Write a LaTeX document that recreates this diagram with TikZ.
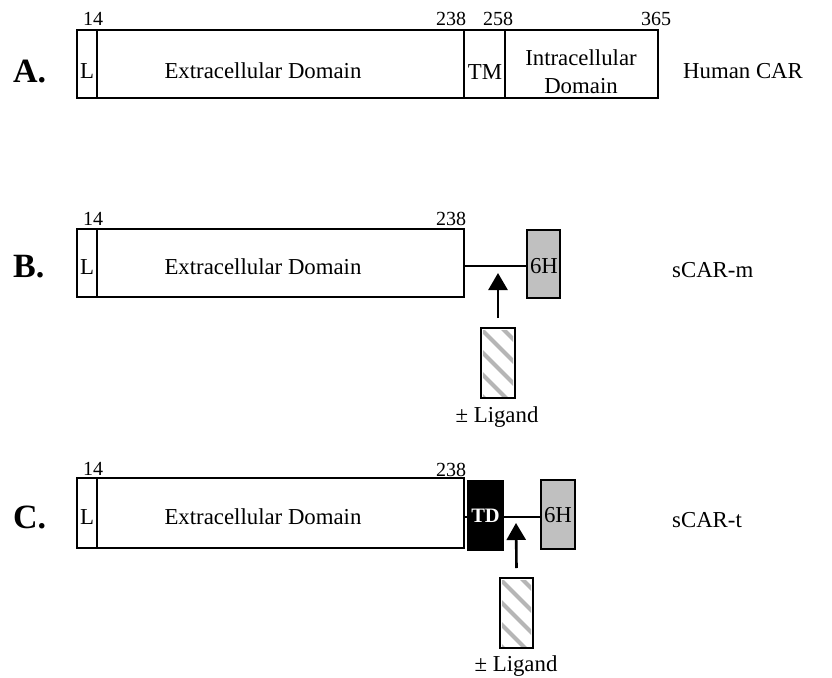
\documentclass[tikz,border=0pt]{standalone}
\usepackage{fontspec}
\setmainfont{Liberation Serif}
\usetikzlibrary{arrows.meta,calc}
\definecolor{hisgray}{RGB}{192,192,192}
\definecolor{hatchgray}{RGB}{182,182,182}
\begin{document}
\begin{tikzpicture}[x=1pt,y=-1pt,
  dom/.style={draw, line width=2.2pt, inner sep=0pt, outer sep=0pt, anchor=north west},
  ligbox/.style={inner sep=0pt, outer sep=0pt, anchor=north west, minimum width=34pt, minimum height=70pt},
  txt/.style={inner sep=0pt, anchor=base, font=\fontsize{22.8}{27}\selectfont},
  num/.style={inner sep=0pt, anchor=base, font=\fontsize{20}{24}\selectfont},
  rowlbl/.style={inner sep=0pt, anchor=base west, font=\fontsize{34}{40}\selectfont\bfseries},
  cname/.style={inner sep=0pt, anchor=base west, font=\fontsize{22.8}{27}\selectfont},
  conn/.style={line width=2pt},
  arr/.style={line width=2.6pt, -{Triangle[width=19pt,length=17pt]}},
  hatch/.style={hatchgray, line width=4pt},
]
\useasboundingbox (0,0) rectangle (832,677);

% ---------------- Row A ----------------
\node[dom, minimum width=20pt, minimum height=68pt] (aL) at (77,30) {};
\node[dom, minimum width=367pt, minimum height=68pt] (aExt) at (97,30) {};
\node[dom, minimum width=41pt, minimum height=68pt] (aTM) at (464,30) {};
\node[dom, minimum width=153pt, minimum height=68pt] (aInt) at (505,30) {};
\node[txt] (aLt) at (87,78) {L};
\node[txt] (aExtt) at (263,78) {Extracellular Domain};
\node[txt] (aTMt) at (485,79) {TM};
\node[txt] (aIntt1) at (581,66) {Intracellular};
\node[txt] (aIntt2) at (581,93) {Domain};
\node[num] (a14) at (93,26) {14};
\node[num] (a238) at (451,26) {238};
\node[num] (a258) at (498,26) {258};
\node[num] (a365) at (656,26) {365};
\node[rowlbl] (aRow) at (13,82) {A.};
\node[cname] (aName) at (683,78) {Human CAR};

% ---------------- Row B ----------------
\node[dom, minimum width=20pt, minimum height=68pt] (bL) at (77,229) {};
\node[dom, minimum width=367pt, minimum height=68pt] (bExt) at (97,229) {};
\node[dom, fill=hisgray, minimum width=33pt, minimum height=68pt] (bH) at (527,230) {};
\node[txt] (bLt) at (87,274) {L};
\node[txt] (bExtt) at (263,274) {Extracellular Domain};
\node[txt] (bHt) at (544,273) {6H};
\node[num] (b14) at (93,225) {14};
\node[num] (b238) at (451,225) {238};
\coordinate (bLine) at (0,266);
\coordinate (bTip) at (498,273);
\draw[conn] (bExt.east |- bLine) -- (bH.west |- bLine);
\node[ligbox] (bLig) at (481,328) {};
\begin{scope}
  \clip ($(bLig.north west)+(2,2)$) rectangle ($(bLig.south east)+(-2,-2)$);
  \foreach \k in {-92,-70,...,80} \draw[hatch] ($(bLig.north west)+(-5,\k)$) -- ++(100,100);
\end{scope}
\draw[line width=2.2pt] (bLig.north west) rectangle (bLig.south east);
\draw[arr] ([yshift=10pt]bLig.north) -- (bTip);
\node[txt] (bLigt) at (497,422) {± Ligand};
\node[rowlbl] (bRow) at (13,277) {B.};
\node[cname] (bName) at (672,277) {sCAR-m};

% ---------------- Row C ----------------
\node[dom, minimum width=20pt, minimum height=70pt] (cL) at (77,478) {};
\node[dom, minimum width=367pt, minimum height=70pt] (cExt) at (97,478) {};
\node[dom, fill=black, minimum width=35pt, minimum height=69pt] (cTD) at (468,481) {};
\node[dom, fill=hisgray, minimum width=34pt, minimum height=69pt] (cH) at (541,480) {};
\node[txt] (cLt) at (87,524) {L};
\node[txt] (cExtt) at (263,524) {Extracellular Domain};
\node[inner sep=0pt, anchor=base, font=\fontsize{20.5}{24}\selectfont\bfseries, text=white] (cTDt) at (485.5,522) {TD};
\node[txt] (cHt) at (558,522) {6H};
\node[num] (c14) at (93,475) {14};
\node[num] (c238) at (451,476) {238};
\coordinate (cLine) at (0,517);
\coordinate (cTip) at (516,523);
\draw[conn] (cExt.east |- cLine) -- (cTD.west |- cLine);
\draw[conn] (cTD.east |- cLine) -- (cH.west |- cLine);
\node[ligbox, minimum width=33pt] (cLig) at (500,578) {};
\begin{scope}
  \clip ($(cLig.north west)+(2,2)$) rectangle ($(cLig.south east)+(-2,-2)$);
  \foreach \k in {-92,-70,...,80} \draw[hatch] ($(cLig.north west)+(-5,\k)$) -- ++(100,100);
\end{scope}
\draw[line width=2.2pt] (cLig.north west) rectangle (cLig.south east);
\draw[arr] ([yshift=10pt]cLig.north) -- (cTip);
\node[txt] (cLigt) at (516,671) {± Ligand};
\node[rowlbl] (cRow) at (13,528) {C.};
\node[cname] (cName) at (672,527) {sCAR-t};
\end{tikzpicture}
\end{document}
